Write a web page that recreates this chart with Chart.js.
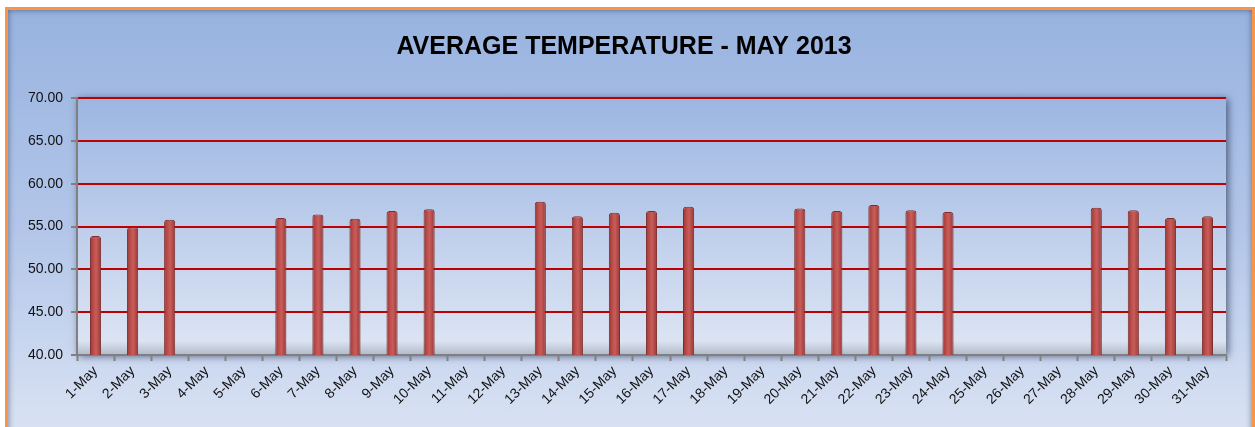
<!DOCTYPE html>
<html>
<head>
<meta charset="utf-8">
<script src="https://cdn.jsdelivr.net/npm/chart.js@4/dist/chart.umd.min.js"></script>
<style>
  body { margin: 0; background: #fff; overflow: hidden; }
  #frame {
    position: absolute; left: 5px; top: 7px;
    width: 1244px; height: 440px;
    border: 3px solid #f79646;
    box-shadow: inset 0 0 6px rgba(40,50,80,0.6);
    background: linear-gradient(to bottom, #98b3e0 0%, #b3c6e9 50%, #dde5f4 100%);
  }
  #chart { display: block; }
</style>
</head>
<body>
<div id="frame"><canvas id="chart" width="1244" height="420"></canvas></div>
<script>
// days of May 2013 and average temperature (blank days have no reading)
var days = [];
for (var d = 1; d <= 31; d++) days.push(d + '-May');

var temps = [
  53.9, 54.9, 55.8, null, null, 56.0, 56.4, 55.9, 56.8, 57.0,
  null, null, 57.9, 56.2, 56.6, 56.8, 57.3, null, null, 57.1,
  56.8, 57.5, 56.9, 56.7, null, null, null, 57.2, 56.9, 56.0,
  56.2
];

var yTicks = [40, 45, 50, 55, 60, 65, 70];

// bar fill: cylinder-ish horizontal gradient
function barFill(c) {
  var chart = c.chart;
  if (!chart.chartArea) return '#b54a47';
  var x = chart.scales.x.getPixelForValue(c.dataIndex);
  var g = chart.ctx.createLinearGradient(x - 6, 0, x + 6, 0);
  g.addColorStop(0, '#8f3533');
  g.addColorStop(0.35, '#bf4f4c');
  g.addColorStop(0.55, '#c95c59');
  g.addColorStop(1, '#8f3533');
  return g;
}

// plot area background with a soft shadow
var plotBg = {
  id: 'plotBg',
  beforeDraw: function(chart) {
    var a = chart.chartArea, ctx = chart.ctx;
    ctx.save();
    ctx.shadowColor = 'rgba(30,40,70,0.7)';
    ctx.shadowBlur = 8;
    ctx.shadowOffsetX = 2;
    ctx.shadowOffsetY = 1;
    var g = ctx.createLinearGradient(0, a.top, 0, a.bottom);
    g.addColorStop(0, '#9cb6e2');
    g.addColorStop(1, '#dfe6f4');
    ctx.fillStyle = g;
    ctx.fillRect(a.left, a.top, a.right - a.left, a.bottom - a.top);
    ctx.restore();
    ctx.save();
    var s = ctx.createLinearGradient(0, a.bottom - 14, 0, a.bottom);
    s.addColorStop(0, 'rgba(120,130,150,0)');
    s.addColorStop(1, 'rgba(120,130,150,0.45)');
    ctx.fillStyle = s;
    ctx.fillRect(a.left, a.bottom - 14, a.right - a.left, 14);
    ctx.restore();
  }
};

var ctx = document.getElementById('chart').getContext('2d');
var chart = new Chart(ctx, {
  type: 'bar',
  data: {
    labels: days,
    datasets: [{
      data: temps,
      backgroundColor: barFill,
      borderColor: '#7d2e2c',
      borderWidth: 1,
      borderRadius: 3,
      borderSkipped: 'bottom',
      barPercentage: 0.3,
      categoryPercentage: 1
    }]
  },
  plugins: [plotBg],
  options: {
    responsive: false,
    animation: false,
    layout: { padding: { left: 14, right: 26, bottom: 0 } },
    plugins: {
      legend: { display: false },
      tooltip: { enabled: false },
      title: {
        display: true,
        text: 'AVERAGE TEMPERATURE - MAY 2013',
        color: '#000',
        font: { family: 'Liberation Sans', size: 25, weight: 'bold' },
        padding: { top: 22, bottom: 36 }
      }
    },
    scales: {
      y: {
        min: 40,
        max: 70,
        afterBuildTicks: function(s) { s.ticks = yTicks.map(function(v) { return { value: v }; }); },
        afterFit: function(s) { s.width = 55; },
        ticks: {
          color: '#111',
          font: { family: 'Liberation Sans', size: 14 },
          padding: 8,
          callback: function(v) { return v.toFixed(2); }
        },
        grid: {
          color: '#c00000',
          lineWidth: 2,
          tickLength: 6,
          tickColor: '#808080',
          tickWidth: 2
        },
        border: { color: '#808080', width: 2 }
      },
      x: {
        afterFit: function(s) { s.height = 75; },
        ticks: {
          color: '#111',
          font: { family: 'Liberation Sans', size: 14 },
          minRotation: 45,
          maxRotation: 45,
          padding: 2
        },
        grid: {
          display: true,
          drawOnChartArea: false,
          offset: true,
          tickLength: 6,
          tickColor: '#808080',
          tickWidth: 2
        },
        border: { color: '#808080', width: 2 }
      }
    }
  }
});
</script>
</body>
</html>
